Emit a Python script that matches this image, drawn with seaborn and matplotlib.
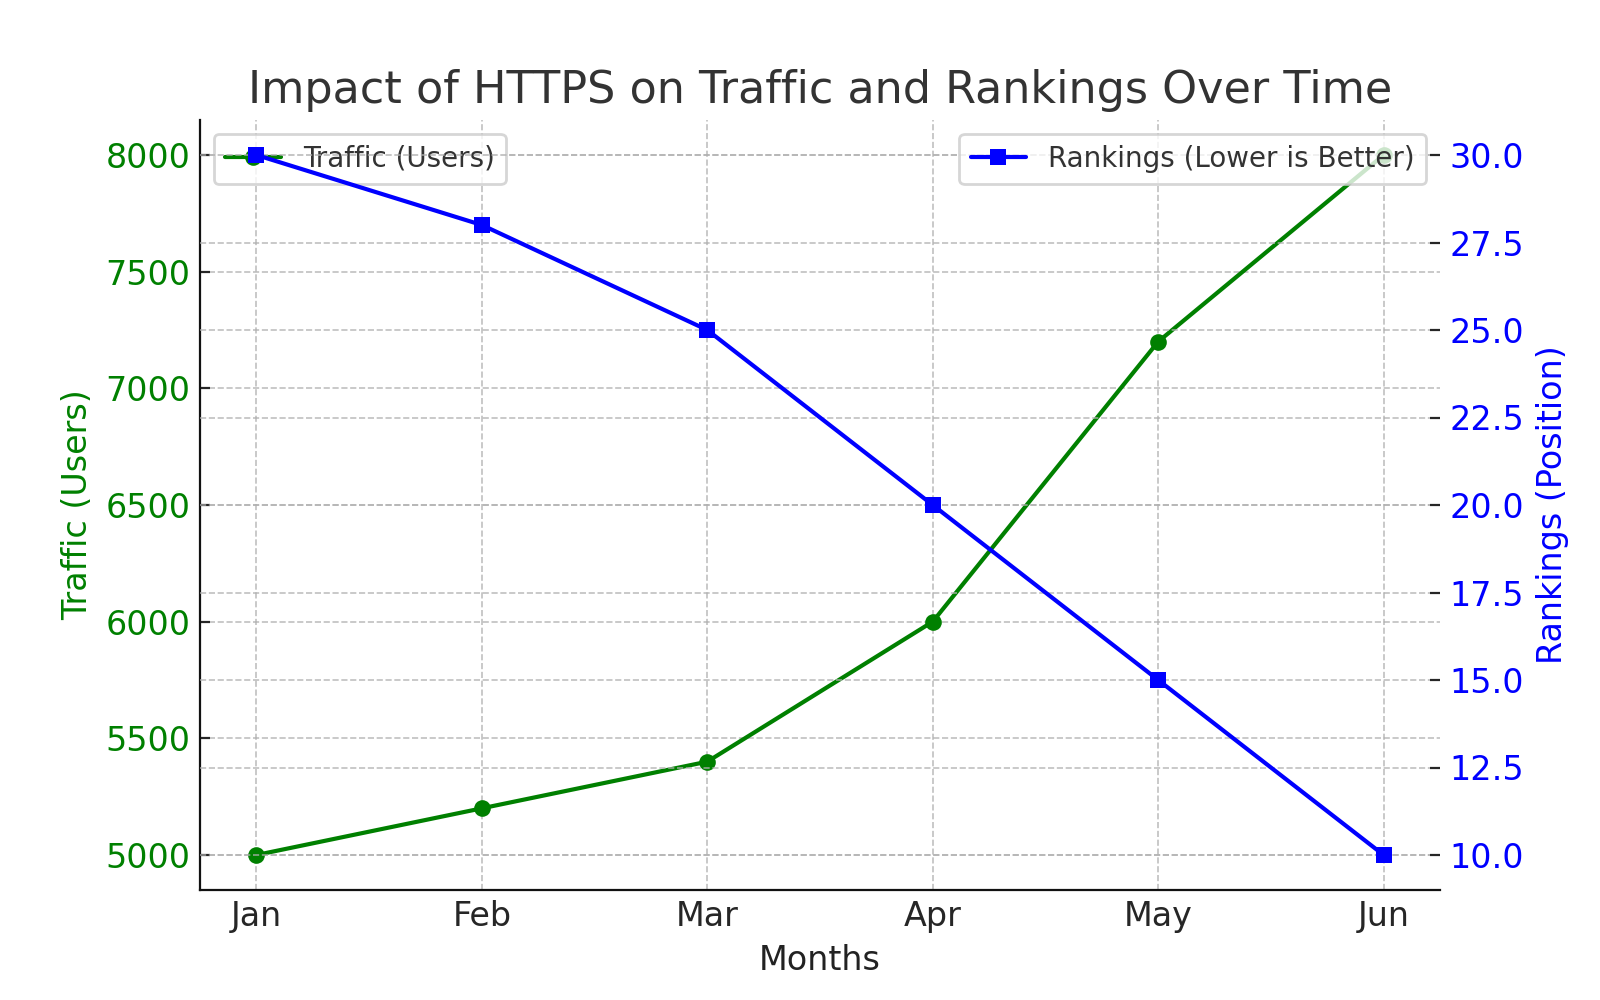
import pandas as pd
import seaborn as sns
import matplotlib.pyplot as plt

months = ['Jan', 'Feb', 'Mar', 'Apr', 'May', 'Jun']
traffic = [5000, 5200, 5400, 6000, 7200, 8000]
rankings = [30, 28, 25, 20, 15, 10]

df = pd.DataFrame({'Months': months, 'Traffic': traffic, 'Rankings': rankings})

sns.set_style('white')
plt.rcParams['xtick.direction'] = 'in'
plt.rcParams['ytick.direction'] = 'in'
plt.rcParams['text.color'] = '#333333'
plt.rcParams['axes.labelcolor'] = '#222222'

fig, ax1 = plt.subplots(figsize=(8, 5), dpi=200)

sns.lineplot(data=df, x='Months', y='Traffic', ax=ax1, color='green', marker='o',
             markersize=6, linewidth=1.5, markeredgewidth=0, label='Traffic (Users)', sort=False)
ax1.set_xlabel('Months', fontsize=12)
ax1.set_ylabel('Traffic (Users)', color='green', fontsize=12)
ax1.tick_params(axis='y', labelcolor='green', labelsize=12)
ax1.tick_params(axis='x', labelsize=12)
ax1.grid(True, linestyle='--', color='#b0b0b0', linewidth=0.6, alpha=0.8)
ax1.spines['top'].set_visible(False)
ax1.spines['right'].set_visible(False)
ax1.spines['left'].set_color('#111111')
ax1.spines['bottom'].set_color('#111111')
ax1.legend(loc='upper left', fontsize=10)

ax2 = ax1.twinx()
sns.lineplot(data=df, x='Months', y='Rankings', ax=ax2, color='blue', marker='s',
             markersize=6, linewidth=1.5, markeredgewidth=0, label='Rankings (Lower is Better)', sort=False)
ax2.set_ylabel('Rankings (Position)', color='blue', fontsize=12)
ax2.tick_params(axis='y', labelcolor='blue', labelsize=12)
ax2.grid(True, axis='y', linestyle='--', color='#b0b0b0', linewidth=0.6, alpha=0.8)
for s in ax2.spines.values():
    s.set_visible(False)
ax2.legend(loc='upper right', fontsize=10)

ax1.set_title('Impact of HTTPS on Traffic and Rankings Over Time', fontsize=16, color='#333333')

plt.savefig('out.png', dpi=200)
